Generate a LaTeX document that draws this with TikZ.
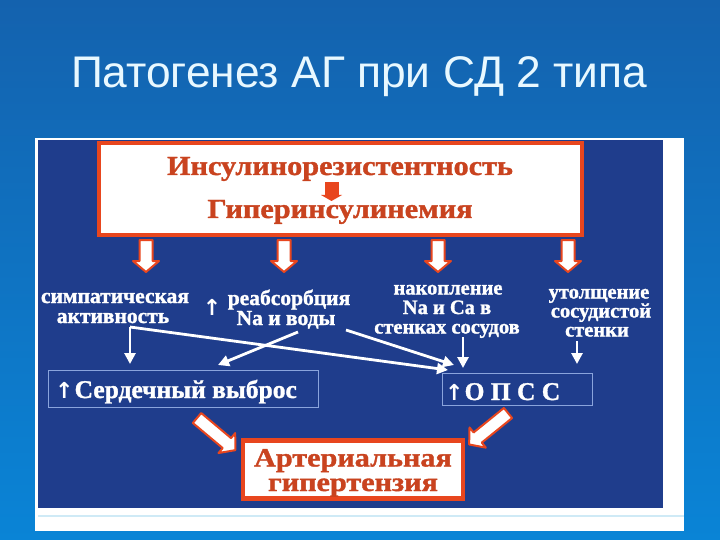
\documentclass[tikz,border=0pt]{standalone}
\usepackage{fontspec}
\setmainfont[BoldFeatures={FakeBold=1.3}]{Liberation Serif}
\newfontfamily\redfont[FakeStretch=1.1,BoldFeatures={FakeBold=1.3}]{Liberation Serif}
\newfontfamily\ahfont[FakeStretch=1.14,BoldFeatures={FakeBold=1.3}]{Liberation Serif}
\newfontfamily\titlefont{Liberation Sans}
\newfontfamily\arrowfont{DejaVu Sans}
\usetikzlibrary{arrows.meta}
\definecolor{slidetop}{HTML}{1462AE}
\definecolor{slidebot}{HTML}{0A84D6}
\definecolor{navy}{HTML}{1F3D8C}
\definecolor{redline}{HTML}{E8461E}
\definecolor{redtext}{HTML}{C9431F}
\definecolor{boxline}{HTML}{8AA4DC}
\definecolor{titlecol}{HTML}{E8F8FF}
\definecolor{stripline}{HTML}{CFEAF6}
\newcommand\fatarr[4]{%
  \begin{scope}[shift={(#1,#2)},rotate=#3]
    \draw[fatstyle] (-6.5,0) -- (6.5,0) -- (6.5,#4-11) -- (13,#4-11) -- (0,#4) -- (-13,#4-11) -- (-6.5,#4-11) -- cycle;
  \end{scope}}
\newcommand\uparr{{\arrowfont\bfseries ↑}}
\begin{document}
\begin{tikzpicture}[x=1pt,y=-1pt,
  lbl/.style={text=white,font=\bfseries\fontsize{21.5}{21.5}\selectfont,inner sep=0pt,anchor=base},
  lblsm/.style={lbl,font=\bfseries\fontsize{20.5}{20.5}\selectfont},
  redtxt/.style={text=redtext,font=\redfont\bfseries\fontsize{27.5}{27.5}\selectfont,inner sep=0pt,anchor=base},
  boxtxt/.style={text=white,font=\bfseries\fontsize{25.5}{25.5}\selectfont,inner sep=0pt,anchor=base west},
  wline/.style={draw=white,line width=2.8pt,-{Triangle[width=11pt,length=11pt]}},
  fatstyle/.style={fill=white,draw=redline,line width=2pt,line join=round},
  thinbox/.style={draw=boxline,line width=0.8pt,inner sep=0pt},
  redbox/.style={fill=white,draw=redline,line width=4.5pt,inner sep=0pt}]
\useasboundingbox (0,0) rectangle (720,540);
% slide background
\shade[top color=slidetop,bottom color=slidebot] (0,0) rectangle (720,540);
\node[anchor=base,text=titlecol,font=\titlefont\fontsize{44.3}{45}\selectfont,inner sep=0pt] (title) at (359,88) {Патогенез АГ при СД 2 типа};
% picture panel
\fill[white] (35,138) rectangle (684,531);
\fill[navy] (38,140) rectangle (663,508);
\draw[stripline,line width=1.5pt] (38,516) -- (684,516);
% top box
\node[redbox,minimum width=483pt,minimum height=92pt] (top) at (340.5,189) {};
\node[redtxt] (ir) at (340,175) {Инсулинорезистентность};
\node[redtxt] (hi) at (340,218) {Гиперинсулинемия};
\fill[redline] (324.5,182) rectangle (338.5,195);
\fill[redline] (321,195) -- (342,195) -- (331.5,201) -- cycle;
% fat arrows from top box
\fatarr{146}{240}{0}{32}
\fatarr{284}{240}{0}{32}
\fatarr{438}{240}{0}{32}
\fatarr{568}{240}{0}{32}
% labels
\node[lbl] (s1) at (115,303) {симпатическая};
\node[lbl] (s2) at (113,323) {активность};
\node[lbl,font=\fontsize{22}{22}\selectfont] (r0) at (212,315) {\uparr};
\node[lbl] (r1) at (289,305) {реабсорбция};
\node[lbl] (r2) at (286,325) {Na и воды};
\node[lblsm] (n1) at (448,294.5) {накопление};
\node[lblsm] (n2) at (447,314) {Na и Ca в};
\node[lblsm] (n3) at (447,333.5) {стенках сосудов};
\node[lblsm] (u1) at (599,298.5) {утолщение};
\node[lblsm] (u2) at (601,317.5) {сосудистой};
\node[lblsm] (u3) at (597,336.5) {стенки};
% result boxes
\node[thinbox,minimum width=270pt,minimum height=37pt] (sv) at (183,388.5) {};
\node[boxtxt] (svt) at (55,398) {{\fontsize{22}{22}\selectfont\uparr}\kern1pt Сердечный выброс};
\node[thinbox,minimum width=150pt,minimum height=32pt] (opss) at (517,389) {};
\node[boxtxt] (opt) at (445,400) {{\fontsize{22}{22}\selectfont\uparr}\kern1pt О П С С};
% final box
\node[redbox,minimum width=220pt,minimum height=58pt] (ah) at (353,469.5) {};
\node[redtxt,font=\ahfont\bfseries\fontsize{26.5}{26.5}\selectfont] (ah1) at (353,466.5) {Артериальная};
\node[redtxt,font=\ahfont\bfseries\fontsize{26.5}{26.5}\selectfont] (ah2) at (353,491) {гипертензия};
% connector end points
\coordinate (act) at (130,327);
\coordinate (actend) at (130,364);
\coordinate (opssA) at (448,370);
\coordinate (nvA) at (346,330);
\coordinate (opssB) at (454,365);
\coordinate (nvB) at (298,332);
\coordinate (svB) at (218,365);
\coordinate (stA) at (463,337);
\coordinate (stB) at (463,368);
\coordinate (thA) at (577,341);
\coordinate (thB) at (577,364);
\draw[wline] (act) -- (actend);
\draw[wline] (act) -- (opssA);
\draw[wline] (nvA) -- (opssB);
\draw[wline] (nvB) -- (svB);
\draw[wline] (stA) -- (stB);
\draw[wline] (thA) -- (thB);
% diagonal fat arrows to final box
\fatarr{197}{418}{50}{50}
\fatarr{508}{413}{-51}{50}
\end{tikzpicture}
\end{document}
